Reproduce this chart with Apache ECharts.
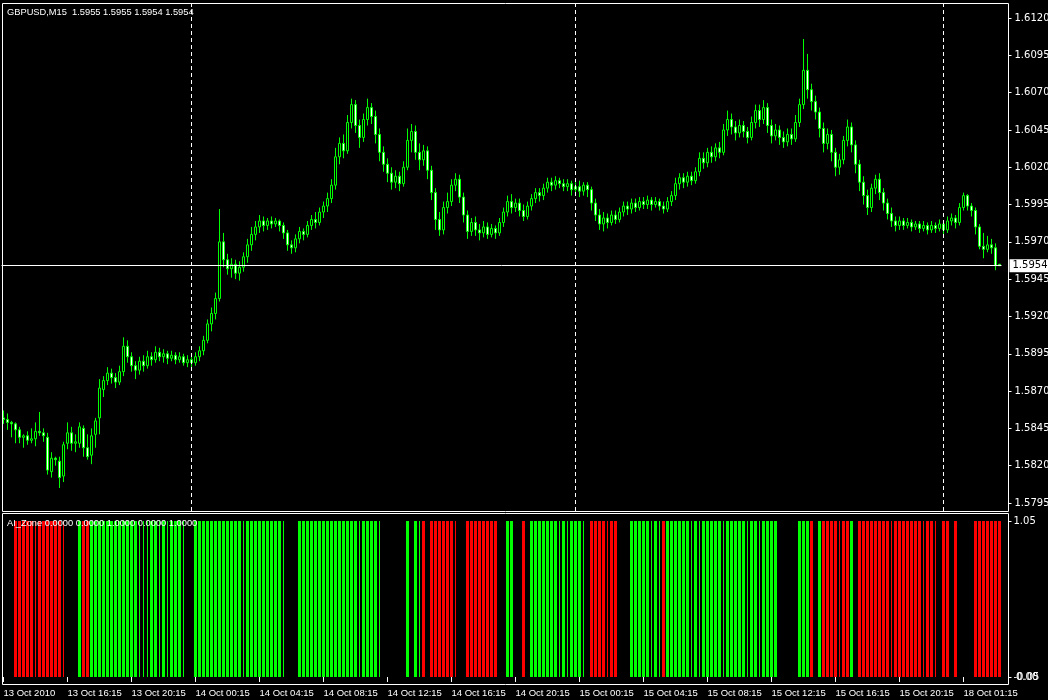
<!DOCTYPE html>
<html><head><meta charset="utf-8">
<script src="https://cdn.jsdelivr.net/npm/echarts@6/dist/echarts.min.js"></script>
<style>html,body{margin:0;padding:0;background:#000;}#c{width:1048px;height:700px;}</style>
</head><body><div id="c"></div>
<script>
const chartTitle = 'GBPUSD,M15  1.5955 1.5955 1.5954 1.5954';
const indicatorTitle = 'AI_Zone 0.0000 0.0000 1.0000 0.0000 1.0000';
const priceTicks = [1.5795,1.5820,1.5845,1.5870,1.5895,1.5920,1.5945,1.5970,1.5995,1.6020,1.6045,1.6070,1.6095,1.6120];
const tickLabels = ['13 Oct 2010','13 Oct 16:15','13 Oct 20:15','14 Oct 00:15','14 Oct 04:15','14 Oct 08:15','14 Oct 12:15','14 Oct 16:15','14 Oct 20:15','15 Oct 00:15','15 Oct 04:15','15 Oct 08:15','15 Oct 12:15','15 Oct 16:15','15 Oct 20:15','18 Oct 01:15'];
const daySeparators = [47,143,235];
const lastPrice = 1.5954;
const zoneLabels = ['1.05','-0.05','0.00'];

const opens = [
1.5852,1.5851,1.5849,1.5848,1.5844,1.5839,1.5840,1.5837,1.5838,1.5843,
1.5842,1.5839,1.5816,1.5825,1.5823,1.5813,1.5835,1.5842,1.5835,1.5835,
1.5845,1.5832,1.5827,1.5841,1.5852,1.5871,1.5877,1.5882,1.5879,1.5876,
1.5883,1.5900,1.5893,1.5887,1.5884,1.5890,1.5887,1.5893,1.5891,1.5896,
1.5893,1.5895,1.5892,1.5894,1.5891,1.5893,1.5889,1.5891,1.5889,1.5893,
1.5897,1.5904,1.5915,1.5922,1.5932,1.5970,1.5958,1.5952,1.5955,1.5949,
1.5953,1.5960,1.5968,1.5975,1.5980,1.5984,1.5981,1.5984,1.5982,1.5984,
1.5981,1.5976,1.5968,1.5966,1.5972,1.5977,1.5975,1.5981,1.5985,1.5983,
1.5990,1.5994,1.5999,1.6008,1.6027,1.6036,1.6031,1.6050,1.6062,1.6048,
1.6040,1.6052,1.6060,1.6054,1.6042,1.6030,1.6022,1.6016,1.6010,1.6014,
1.6009,1.6020,1.6038,1.6044,1.6030,1.6025,1.6031,1.6018,1.6003,1.5985,
1.5978,1.5993,1.5997,1.6008,1.6012,1.6000,1.5988,1.5977,1.5983,1.5978,
1.5976,1.5980,1.5975,1.5979,1.5976,1.5983,1.5990,1.5997,1.5993,1.5996,
1.5991,1.5987,1.5994,1.5999,1.6003,1.6001,1.6006,1.6010,1.6008,1.6011,
1.6009,1.6007,1.6009,1.6005,1.6007,1.6004,1.6008,1.6005,1.5996,1.5988,
1.5982,1.5986,1.5983,1.5988,1.5985,1.5990,1.5994,1.5992,1.5996,1.5993,
1.5997,1.5995,1.5998,1.5995,1.5997,1.5994,1.5992,1.5997,1.6001,1.6009,
1.6013,1.6010,1.6014,1.6011,1.6017,1.6026,1.6023,1.6030,1.6027,1.6033,
1.6030,1.6045,1.6052,1.6047,1.6043,1.6048,1.6044,1.6040,1.6050,1.6058,
1.6052,1.6060,1.6048,1.6041,1.6045,1.6040,1.6037,1.6042,1.6039,1.6050,
1.6062,1.6085,1.6072,1.6064,1.6057,1.6046,1.6036,1.6042,1.6030,1.6020,
1.6025,1.6038,1.6047,1.6035,1.6022,1.6010,1.6001,1.5993,1.6006,1.6012,
1.6003,1.5996,1.5989,1.5984,1.5981,1.5984,1.5981,1.5983,1.5980,1.5982,
1.5979,1.5981,1.5978,1.5981,1.5979,1.5982,1.5978,1.5984,1.5986,1.5983,
1.5993,1.6001,1.5994,1.5991,1.5980,1.5967,1.5965,1.5968,1.5966,1.5955];

const closes = [
1.5851,1.5849,1.5848,1.5844,1.5839,1.5840,1.5837,1.5838,1.5843,1.5842,
1.5840,1.5817,1.5825,1.5824,1.5812,1.5834,1.5842,1.5835,1.5836,1.5846,
1.5832,1.5826,1.5840,1.5850,1.5872,1.5877,1.5882,1.5879,1.5876,1.5883,
1.5900,1.5893,1.5887,1.5884,1.5890,1.5887,1.5893,1.5891,1.5896,1.5893,
1.5895,1.5892,1.5894,1.5891,1.5893,1.5889,1.5891,1.5889,1.5893,1.5897,
1.5904,1.5915,1.5922,1.5932,1.5970,1.5958,1.5952,1.5955,1.5949,1.5953,
1.5960,1.5968,1.5975,1.5980,1.5984,1.5981,1.5984,1.5982,1.5984,1.5981,
1.5976,1.5968,1.5966,1.5972,1.5977,1.5975,1.5981,1.5985,1.5983,1.5990,
1.5994,1.5999,1.6008,1.6027,1.6036,1.6031,1.6050,1.6062,1.6048,1.6040,
1.6052,1.6060,1.6054,1.6042,1.6030,1.6022,1.6016,1.6010,1.6014,1.6009,
1.6020,1.6038,1.6044,1.6030,1.6025,1.6031,1.6018,1.6003,1.5985,1.5978,
1.5993,1.5997,1.6008,1.6012,1.6000,1.5988,1.5977,1.5983,1.5978,1.5976,
1.5980,1.5975,1.5979,1.5976,1.5983,1.5990,1.5997,1.5993,1.5996,1.5991,
1.5987,1.5994,1.5999,1.6003,1.6001,1.6006,1.6010,1.6008,1.6011,1.6009,
1.6007,1.6009,1.6005,1.6007,1.6004,1.6008,1.6005,1.5996,1.5988,1.5982,
1.5986,1.5983,1.5988,1.5985,1.5990,1.5994,1.5992,1.5996,1.5993,1.5997,
1.5995,1.5998,1.5995,1.5997,1.5994,1.5992,1.5997,1.6001,1.6009,1.6013,
1.6010,1.6014,1.6011,1.6017,1.6026,1.6023,1.6030,1.6027,1.6033,1.6030,
1.6045,1.6052,1.6047,1.6043,1.6048,1.6044,1.6040,1.6050,1.6058,1.6052,
1.6060,1.6048,1.6041,1.6045,1.6040,1.6037,1.6042,1.6039,1.6050,1.6062,
1.6085,1.6072,1.6064,1.6057,1.6046,1.6036,1.6042,1.6030,1.6020,1.6025,
1.6038,1.6047,1.6035,1.6022,1.6010,1.6001,1.5993,1.6006,1.6012,1.6003,
1.5996,1.5989,1.5984,1.5981,1.5984,1.5981,1.5983,1.5980,1.5982,1.5979,
1.5981,1.5978,1.5981,1.5979,1.5982,1.5978,1.5984,1.5986,1.5983,1.5993,
1.6001,1.5994,1.5991,1.5980,1.5967,1.5965,1.5968,1.5966,1.5954,1.5954];

const lows = [
1.5848,1.5844,1.5839,1.5835,1.5835,1.5832,1.5834,1.5835,1.5833,1.5840,
1.5836,1.5814,1.5812,1.5820,1.5805,1.5809,1.5831,1.5830,1.5829,1.5832,
1.5826,1.5824,1.5821,1.5832,1.5841,1.5866,1.5874,1.5875,1.5872,1.5874,
1.5880,1.5889,1.5883,1.5878,1.5881,1.5883,1.5885,1.5887,1.5889,1.5890,
1.5889,1.5888,1.5890,1.5888,1.5889,1.5887,1.5886,1.5885,1.5887,1.5890,
1.5894,1.5902,1.5910,1.5918,1.5930,1.5953,1.5948,1.5946,1.5945,1.5944,
1.5950,1.5956,1.5964,1.5971,1.5976,1.5977,1.5978,1.5979,1.5980,1.5977,
1.5972,1.5964,1.5962,1.5963,1.5969,1.5971,1.5973,1.5978,1.5979,1.5981,
1.5986,1.5990,1.5996,1.6005,1.6022,1.6026,1.6029,1.6046,1.6043,1.6033,
1.6037,1.6048,1.6049,1.6036,1.6024,1.6017,1.6010,1.6005,1.6006,1.6004,
1.6007,1.6018,1.6030,1.6025,1.6018,1.6021,1.6012,1.5998,1.5978,1.5974,
1.5975,1.5989,1.5994,1.6004,1.5996,1.5983,1.5972,1.5974,1.5974,1.5971,
1.5973,1.5972,1.5973,1.5972,1.5974,1.5980,1.5987,1.5989,1.5990,1.5987,
1.5984,1.5985,1.5991,1.5996,1.5997,1.5998,1.6003,1.6004,1.6005,1.6006,
1.6004,1.6004,1.6001,1.6002,1.6000,1.6001,1.6000,1.5991,1.5984,1.5978,
1.5977,1.5979,1.5981,1.5982,1.5983,1.5987,1.5988,1.5989,1.5990,1.5991,
1.5992,1.5992,1.5991,1.5993,1.5991,1.5989,1.5990,1.5994,1.5998,1.6005,
1.6006,1.6007,1.6008,1.6009,1.6014,1.6019,1.6020,1.6023,1.6024,1.6026,
1.6028,1.6041,1.6042,1.6038,1.6040,1.6040,1.6036,1.6038,1.6046,1.6047,
1.6049,1.6043,1.6036,1.6038,1.6035,1.6033,1.6034,1.6035,1.6037,1.6047,
1.6059,1.6066,1.6058,1.6052,1.6040,1.6030,1.6032,1.6024,1.6014,1.6015,
1.6022,1.6034,1.6030,1.6016,1.6004,1.5995,1.5988,1.5990,1.6002,1.5998,
1.5991,1.5985,1.5980,1.5977,1.5978,1.5978,1.5979,1.5977,1.5978,1.5976,
1.5977,1.5975,1.5976,1.5976,1.5977,1.5975,1.5976,1.5981,1.5979,1.5981,
1.5991,1.5991,1.5987,1.5975,1.5965,1.5959,1.5963,1.5962,1.5951,1.5954];

const highs = [
1.5857,1.5855,1.5850,1.5849,1.5846,1.5841,1.5843,1.5845,1.5849,1.5856,
1.5845,1.5842,1.5829,1.5826,1.5826,1.5836,1.5849,1.5846,1.5841,1.5849,
1.5847,1.5841,1.5845,1.5852,1.5878,1.5880,1.5886,1.5885,1.5882,1.5887,
1.5906,1.5904,1.5896,1.5890,1.5893,1.5894,1.5897,1.5896,1.5900,1.5899,
1.5898,1.5897,1.5897,1.5896,1.5896,1.5895,1.5894,1.5893,1.5896,1.5900,
1.5907,1.5918,1.5926,1.5936,1.5992,1.5976,1.5962,1.5959,1.5958,1.5957,
1.5963,1.5972,1.5980,1.5984,1.5988,1.5987,1.5986,1.5987,1.5986,1.5985,
1.5983,1.5978,1.5971,1.5975,1.5980,1.5979,1.5984,1.5988,1.5990,1.5993,
1.5997,1.6003,1.6012,1.6033,1.6040,1.6042,1.6055,1.6066,1.6065,1.6052,
1.6056,1.6066,1.6063,1.6058,1.6046,1.6034,1.6026,1.6020,1.6018,1.6017,
1.6024,1.6046,1.6049,1.6048,1.6036,1.6035,1.6034,1.6021,1.6006,1.5990,
1.5997,1.6003,1.6012,1.6016,1.6015,1.6003,1.5991,1.5986,1.5987,1.5982,
1.5984,1.5983,1.5982,1.5981,1.5986,1.5993,1.6001,1.6002,1.5999,1.5999,
1.5995,1.5997,1.6002,1.6006,1.6006,1.6009,1.6013,1.6013,1.6014,1.6013,
1.6012,1.6012,1.6011,1.6010,1.6011,1.6010,1.6010,1.6007,1.5999,1.5992,
1.5990,1.5989,1.5991,1.5991,1.5993,1.5997,1.5997,1.5999,1.5999,1.6000,
1.6000,1.6001,1.6000,1.6000,1.5999,1.5997,1.6000,1.6004,1.6013,1.6016,
1.6016,1.6017,1.6017,1.6020,1.6030,1.6030,1.6033,1.6034,1.6036,1.6037,
1.6049,1.6058,1.6056,1.6051,1.6052,1.6051,1.6047,1.6054,1.6062,1.6062,
1.6065,1.6063,1.6052,1.6049,1.6048,1.6044,1.6046,1.6046,1.6055,1.6066,
1.6106,1.6096,1.6076,1.6068,1.6060,1.6050,1.6046,1.6045,1.6033,1.6029,
1.6041,1.6052,1.6050,1.6038,1.6025,1.6014,1.6005,1.6009,1.6015,1.6016,
1.6006,1.5999,1.5993,1.5987,1.5987,1.5986,1.5986,1.5985,1.5984,1.5984,
1.5984,1.5983,1.5984,1.5983,1.5985,1.5984,1.5987,1.5989,1.5988,1.5996,
1.6003,1.6002,1.5996,1.5993,1.5982,1.5976,1.5974,1.5972,1.5969,1.5955];

// AI_Zone state per bar: R = red, G = green, r/g = thin red/green line, . = none
const zoneRows = [
'...RRRRRrRRRRRRr...GRRGGGGGGGGGGGGgggGGgGgGGGg..GG',
'GGGGGGGGGGgGGGGGGGGGg...GGGGGGGGGGGGGGGgGGGGg.....',
'.G.GgR.RRRRRRr..RRRRRRRR..GG..R.GGGGGGGgGgGGGg.RRR',
'RrRR...GGGGGgGgRGGGGGGgGgGGGGGgGGGGGgGGgGGGG.....G',
'GGR.GRRRRrRRG.RRRRRRRRrRRRRRRRrRRr.RR.R....RRRRRRR'
];

const N = opens.length;
const idx = Array.from({length: N}, (_, i) => i);
const candleData = idx.map(i => [opens[i], closes[i], lows[i], highs[i]]);
const zone = zoneRows.join('').split('');
const RED = '#ff0000', GREEN = '#00ff00';
const fullBars = zone.map(c => c === 'R' ? {value: 1, itemStyle: {color: RED}} : c === 'G' ? {value: 1, itemStyle: {color: GREEN}} : '-');
const thinBars = zone.map(c => c === 'r' ? {value: 1, itemStyle: {color: RED}} : c === 'g' ? {value: 1, itemStyle: {color: GREEN}} : '-');

const Y_MIN = 1.57896, Y_MAX = 1.61301;
const chart = echarts.init(document.getElementById('c'), null, {renderer: 'canvas'});
const textFont = 'Liberation Sans';
const axisFont = 'DejaVu Sans';

chart.setOption({
  backgroundColor: '#000000',
  animation: false,
  grid: [
    {left: 1.5, top: 3, width: 1000, height: 508, outerBoundsMode: 'none', containLabel: false},
    {left: 1.5, top: 521, width: 1000, height: 156, outerBoundsMode: 'none', containLabel: false}
  ],
  xAxis: [
    {type: 'category', gridIndex: 0, data: idx, boundaryGap: true, show: false},
    {type: 'category', gridIndex: 1, data: idx, boundaryGap: true, position: 'bottom', offset: 7.5,
      axisLine: {show: false},
      axisTick: {show: true, interval: 15, alignWithLabel: true, length: 5, lineStyle: {color: '#ffffff'}},
      axisLabel: {interval: 15, align: 'left', margin: 4, color: '#ffffff', fontSize: 9.5, fontFamily: textFont,
        formatter: (v, i) => (i % 16 === 0 && tickLabels[i / 16]) ? tickLabels[i / 16] : ''}},
    {type: 'category', gridIndex: 1, data: idx, boundaryGap: true, show: false}
  ],
  yAxis: [
    {type: 'value', gridIndex: 0, position: 'right', offset: 7, min: Y_MIN, max: Y_MAX,
      splitLine: {show: false}, axisLine: {show: false},
      axisTick: {show: true, length: 3, customValues: priceTicks, lineStyle: {color: '#ffffff'}},
      axisLabel: {customValues: priceTicks, margin: 6, color: '#ffffff', fontSize: 10, fontFamily: axisFont,
        formatter: v => Number(v).toFixed(4)}},
    {type: 'value', gridIndex: 1, position: 'right', offset: 7, min: 0, max: 1,
      splitLine: {show: false}, axisLine: {show: false},
      axisTick: {show: true, length: 3, customValues: [0, 1], lineStyle: {color: '#ffffff'}},
      axisLabel: {customValues: [0, 1], margin: 5, color: '#ffffff', fontSize: 10, fontFamily: axisFont,
        formatter: v => v >= 1 ? zoneLabels[0] : zoneLabels[1]}}
  ],
  series: [
    {type: 'line', xAxisIndex: 0, yAxisIndex: 0, data: [], silent: true, z: 1,
      markLine: {silent: true, symbol: ['none', 'none'], animation: false, precision: 4,
        data: daySeparators.map(s => [
          {coord: [s, Y_MIN], lineStyle: {color: '#ffffff', type: [4, 3], width: 1}, label: {show: false}},
          {coord: [s, Y_MAX]}
        ])}},
    {type: 'candlestick', xAxisIndex: 0, yAxisIndex: 0, data: candleData, barWidth: 2, z: 2,
      silent: true,
      itemStyle: {color: '#000000', color0: '#ffffff', borderColor: GREEN, borderColor0: GREEN, borderColorDoji: GREEN, borderWidth: 1},
      emphasis: {disabled: true}},
    {type: 'line', xAxisIndex: 0, yAxisIndex: 0, data: [], silent: true, z: 3,
      markLine: {silent: true, symbol: ['none', 'none'], animation: false, precision: 4,
        data: [
          {yAxis: lastPrice, lineStyle: {color: '#ffffff', type: 'solid', width: 1},
            label: {show: true, position: 'end', formatter: lastPrice.toFixed(4), color: '#000000', backgroundColor: '#ffffff',
              padding: [2, 3, 1, 3], fontSize: 10, fontFamily: axisFont, distance: 8}}
        ]}},
    {type: 'bar', xAxisIndex: 1, yAxisIndex: 1, data: fullBars, barWidth: 3, silent: true, emphasis: {disabled: true}},
    {type: 'bar', xAxisIndex: 2, yAxisIndex: 1, data: thinBars, barWidth: 1, silent: true, emphasis: {disabled: true}}
  ],
  graphic: [
    {type: 'rect', z: 100, shape: {x: 2.5, y: 3.5, width: 1006, height: 508}, style: {fill: null, stroke: '#ffffff', lineWidth: 1}},
    {type: 'rect', z: 100, shape: {x: 2.5, y: 513.5, width: 1006, height: 171}, style: {fill: null, stroke: '#ffffff', lineWidth: 1}},
    {type: 'text', z: 101, x: 7, y: 12, style: {text: chartTitle, fill: '#ffffff', fontSize: 9.3, fontFamily: textFont, verticalAlign: 'middle'}},
    {type: 'text', z: 101, x: 7, y: 523, style: {text: indicatorTitle, fill: '#ffffff', fontSize: 9.3, fontFamily: textFont, verticalAlign: 'middle'}},
    {type: 'text', z: 101, x: 1016, y: 677, style: {text: zoneLabels[2], fill: '#ffffff', fontSize: 10, fontFamily: axisFont, verticalAlign: 'middle'}}
  ]
});
</script>
</body></html>
